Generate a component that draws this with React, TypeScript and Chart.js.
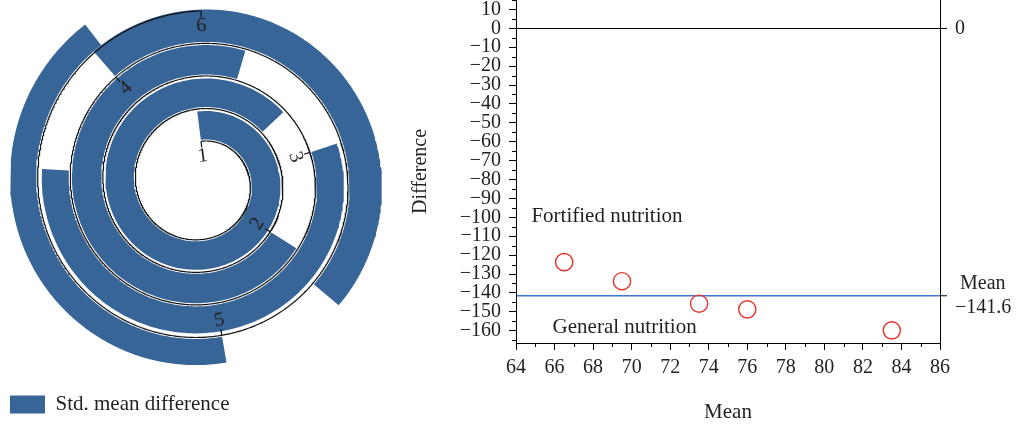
import React, { useEffect, useRef } from 'react';
import { Chart, registerables } from 'chart.js';

Chart.register(...registerables);

// ---------------- data ----------------
// spiral (left panel)
const spiralTickLabels = ['1', '2', '3', '4', '5', '6'];
const stdMeanDifference = [0.95, 0.98, 0.9, 1.08, 0.87];
const legendLabel = 'Std. mean difference';

// Bland-Altman (right panel)
const meanValues = [66.5, 69.5, 73.5, 76, 83.5];
const differenceValues = [-123.7, -133.8, -145.7, -148.7, -159.8];
const meanDifference = -141.6;
const meanLabel = 'Mean';
const xTickValues = [64, 66, 68, 70, 72, 74, 76, 78, 80, 82, 84, 86];
const xMinorTickValues = [65, 67, 69, 71, 73, 75, 77, 79, 81, 83, 85];
const yTickValues = [10, 0, -10, -20, -30, -40, -50, -60, -70, -80, -90, -100, -110, -120, -130, -140, -150, -160];
const yMinorTickValues = [15, 5, -5, -15, -25, -35, -45, -55, -65, -75, -85, -95, -105, -115, -125, -135, -145, -155, -165];
const regionLabels = ['Fortified nutrition', 'General nutrition'];
const regionLabelMeans = [64.8, 65.9];
const regionLabelDiffs = [-99.3, -158.3];

// ---------------- styles / layout ----------------
const FONT = "'Liberation Serif', 'DejaVu Serif', serif";
const INK = '#231f20';
const BAR_BLUE = '#386597';
const MEAN_BLUE = '#3f74d4';
const RED = '#e5322b';

Chart.defaults.font.family = FONT;
Chart.defaults.color = INK;

const LEFT_W = 400;
const RIGHT_W = 618;
const H = 425;
const LEGEND_FONT = 21;
const LEFT_AREA_H = H - (LEGEND_FONT + 10 + 10); // legend height = itemHeight + padding + 10

const SPIRAL_CX = 201;
const SPIRAL_CY = 182.3;
const SPIRAL_R0 = 41;
const SPIRAL_PITCH = 32.6;
const SPIRAL_TURNS = 4;
const BAR_FRACTION = 0.8;
const BAR_GAP = 1.5;
const BAR_PX_PER_UNIT = 30;

const C = SPIRAL_PITCH / (2 * Math.PI);
const arcLen = (phi: number) => SPIRAL_R0 * phi + (C * phi * phi) / 2;
const phiAt = (s: number) => (-SPIRAL_R0 + Math.sqrt(SPIRAL_R0 * SPIRAL_R0 + 2 * C * s)) / C;
const totalArc = arcLen(2 * Math.PI * SPIRAL_TURNS);
const tickSpacing = totalArc / (spiralTickLabels.length - 1);

function spiralFrame(phi: number) {
  const r = SPIRAL_R0 + C * phi;
  const s = Math.sin(phi);
  const c = Math.cos(phi);
  const px = SPIRAL_CX + r * s;
  const py = SPIRAL_CY - r * c;
  const len = Math.hypot(r, C);
  const nx = (r * s - C * c) / len;
  const ny = (-r * c - C * s) / len;
  return { px, py, nx, ny };
}

function buildBarDatasets() {
  return stdMeanDifference.map((v, i) => {
    const h = v * BAR_PX_PER_UNIT;
    const s0 = i * tickSpacing;
    const s1 = (i + BAR_FRACTION) * tickSpacing;
    const n = 180;
    const inner: { x: number; y: number }[] = [];
    const outer: { x: number; y: number }[] = [];
    for (let k = 0; k <= n; k++) {
      const f = spiralFrame(phiAt(s0 + ((s1 - s0) * k) / n));
      inner.push({ x: f.px + BAR_GAP * f.nx, y: f.py + BAR_GAP * f.ny });
      outer.push({ x: f.px + (BAR_GAP + h) * f.nx, y: f.py + (BAR_GAP + h) * f.ny });
    }
    return {
      label: legendLabel,
      data: [...inner, ...outer.reverse()],
      showLine: true,
      fill: 'shape',
      backgroundColor: BAR_BLUE,
      borderColor: 'rgba(0,0,0,0)',
      borderWidth: 0,
      pointRadius: 0,
      pointHoverRadius: 0,
      order: 1,
    };
  });
}

function buildAxisDataset() {
  const pts: { x: number; y: number }[] = [];
  const end = 360 * SPIRAL_TURNS;
  for (let d = 0; d <= end; d += 0.5) {
    const f = spiralFrame((d * Math.PI) / 180);
    pts.push({ x: f.px, y: f.py });
  }
  return {
    label: 'axis',
    data: pts,
    showLine: true,
    fill: false,
    borderColor: '#111',
    borderWidth: 1.2,
    pointRadius: 0,
    pointHoverRadius: 0,
    order: 0,
  };
}

const spiralTicksPlugin = {
  id: 'spiralTicks',
  afterDatasetsDraw(chart: any) {
    const { ctx } = chart;
    const xs = chart.scales.x;
    const ys = chart.scales.y;
    ctx.save();
    spiralTickLabels.forEach((lab, i) => {
      const f = spiralFrame(phiAt(i * tickSpacing));
      const p0x = xs.getPixelForValue(f.px);
      const p0y = ys.getPixelForValue(f.py);
      const p1x = xs.getPixelForValue(f.px - 6 * f.nx);
      const p1y = ys.getPixelForValue(f.py - 6 * f.ny);
      ctx.strokeStyle = '#111';
      ctx.lineWidth = 1.2;
      ctx.beginPath();
      ctx.moveTo(p0x, p0y);
      ctx.lineTo(p1x, p1y);
      ctx.stroke();
      const lx = xs.getPixelForValue(f.px - 15 * f.nx);
      const ly = ys.getPixelForValue(f.py - 15 * f.ny);
      let a = Math.atan2(f.nx, -f.ny);
      if (a > Math.PI / 2) a -= Math.PI;
      else if (a < -Math.PI / 2) a += Math.PI;
      ctx.save();
      ctx.translate(lx, ly);
      ctx.rotate(a);
      ctx.fillStyle = INK;
      ctx.font = `20px ${FONT}`;
      ctx.textAlign = 'center';
      ctx.textBaseline = 'middle';
      ctx.fillText(lab, 0, 0);
      ctx.restore();
    });
    ctx.restore();
  },
};

const fmt = (v: number) => (v < 0 ? '\u2212' + String(Math.abs(v)) : String(v));

const minorTicksPlugin = {
  id: 'minorTicks',
  afterDraw(chart: any) {
    const { ctx, chartArea } = chart;
    const xs = chart.scales.x;
    const ys = chart.scales.y;
    ctx.save();
    ctx.strokeStyle = '#000';
    ctx.lineWidth = 1;
    yMinorTickValues.forEach((v) => {
      if (v < ys.min || v > ys.max) return;
      const py = Math.round(ys.getPixelForValue(v)) + 0.5;
      ctx.beginPath();
      ctx.moveTo(chartArea.left - 4, py);
      ctx.lineTo(chartArea.left, py);
      ctx.stroke();
    });
    xMinorTickValues.forEach((v) => {
      const px = Math.round(xs.getPixelForValue(v)) + 0.5;
      ctx.beginPath();
      ctx.moveTo(px, chartArea.bottom);
      ctx.lineTo(px, chartArea.bottom + 4);
      ctx.stroke();
    });
    ctx.fillStyle = INK;
    ctx.font = `21px ${FONT}`;
    ctx.textAlign = 'left';
    ctx.textBaseline = 'middle';
    regionLabels.forEach((t, i) => {
      ctx.fillText(t, xs.getPixelForValue(regionLabelMeans[i]), ys.getPixelForValue(regionLabelDiffs[i]));
    });
    ctx.restore();
  },
};

const Y_MIN = -166.5;
const Y_MAX = 15;

export default function App() {
  const leftRef = useRef<HTMLCanvasElement>(null);
  const rightRef = useRef<HTMLCanvasElement>(null);

  useEffect(() => {
    const left = new Chart(leftRef.current as HTMLCanvasElement, {
      type: 'scatter',
      data: { datasets: [buildAxisDataset(), ...buildBarDatasets()] as any },
      options: {
        responsive: false,
        animation: false,
        events: [],
        layout: { padding: 0, autoPadding: false },
        scales: {
          x: { type: 'linear', display: false, min: 0, max: LEFT_W },
          y: { type: 'linear', display: false, reverse: true, min: 0, max: LEFT_AREA_H },
        },
        plugins: {
          tooltip: { enabled: false },
          legend: {
            display: true,
            position: 'bottom',
            align: 'start',
            labels: {
              boxWidth: 35,
              boxHeight: 18,
              padding: 10,
              color: INK,
              font: { family: FONT, size: LEGEND_FONT },
              filter: (item: any) => item.datasetIndex === 1,
            },
          },
        },
      } as any,
      plugins: [spiralTicksPlugin],
    });

    const right = new Chart(rightRef.current as HTMLCanvasElement, {
      type: 'scatter',
      data: {
        datasets: [
          {
            label: 'Difference',
            data: meanValues.map((m, i) => ({ x: m, y: differenceValues[i] })),
            pointRadius: 8.6,
            pointHoverRadius: 8.6,
            pointBorderColor: RED,
            pointBackgroundColor: 'rgba(0,0,0,0)',
            pointBorderWidth: 1.4,
          },
        ],
      },
      options: {
        responsive: false,
        animation: false,
        events: [],
        layout: { padding: 0, autoPadding: false },
        plugins: { legend: { display: false }, tooltip: { enabled: false } },
        scales: {
          x: {
            type: 'linear',
            position: 'bottom',
            min: 64,
            max: 86,
            afterBuildTicks: (s: any) => {
              s.ticks = xTickValues.map((v) => ({ value: v }));
            },
            afterFit: (s: any) => {
              s.height = 82;
              s.paddingLeft = 0;
              s.paddingRight = 0;
            },
            ticks: { font: { family: FONT, size: 20 }, color: INK, padding: 6, maxRotation: 0, autoSkip: false },
            grid: { drawOnChartArea: false, tickLength: 7, tickColor: '#000', tickWidth: 1 },
            border: { display: true, color: '#000', width: 1 },
            title: { display: true, text: 'Mean', font: { family: FONT, size: 21 }, color: INK, padding: { top: 0, bottom: 0 } },
          },
          y: {
            type: 'linear',
            position: 'left',
            min: Y_MIN,
            max: Y_MAX,
            afterBuildTicks: (s: any) => {
              s.ticks = yTickValues.map((v) => ({ value: v }));
            },
            afterFit: (s: any) => {
              s.width = 116;
              s.paddingTop = 0;
              s.paddingBottom = 0;
            },
            ticks: { font: { family: FONT, size: 20 }, color: INK, padding: 8, autoSkip: false, callback: (v: any) => fmt(Number(v)) },
            grid: { drawOnChartArea: false, tickLength: 7, tickColor: '#000', tickWidth: 1 },
            border: { display: true, color: '#000', width: 1 },
            title: { display: true, text: 'Difference', font: { family: FONT, size: 20 }, color: INK, padding: { top: 9, bottom: 0 } },
          },
          y2: {
            type: 'linear',
            position: 'right',
            min: Y_MIN,
            max: Y_MAX,
            afterBuildTicks: (s: any) => {
              s.ticks = [{ value: 0 }, { value: meanDifference }];
            },
            afterFit: (s: any) => {
              s.width = RIGHT_W - 540;
              s.paddingTop = 0;
              s.paddingBottom = 0;
            },
            ticks: {
              font: { family: FONT, size: 20 },
              color: INK,
              padding: 8,
              crossAlign: 'near',
              autoSkip: false,
              callback: (v: any) => (Number(v) === 0 ? '0' : [' ' + meanLabel, fmt(Number(Number(v).toFixed(1)))]),
            },
            grid: {
              drawOnChartArea: true,
              color: (ctx: any) => (ctx.tick && ctx.tick.value === 0 ? '#000' : MEAN_BLUE),
              lineWidth: (ctx: any) => (ctx.tick && ctx.tick.value === 0 ? 1 : 1.5),
              tickColor: '#000',
              tickLength: 7,
              tickWidth: 1,
            },
            border: { display: true, color: '#000', width: 1 },
          },
        },
      } as any,
      plugins: [minorTicksPlugin],
    });

    return () => {
      left.destroy();
      right.destroy();
    };
  }, []);

  return (
    <div style={{ position: 'absolute', left: 0, top: 0, width: 1018, height: H, background: '#fff' }}>
      <canvas
        ref={leftRef}
        width={LEFT_W}
        height={H}
        style={{ position: 'absolute', left: 0, top: 0, width: LEFT_W, height: H }}
      />
      <canvas
        ref={rightRef}
        width={RIGHT_W}
        height={H}
        style={{ position: 'absolute', left: LEFT_W, top: 0, width: RIGHT_W, height: H }}
      />
    </div>
  );
}
